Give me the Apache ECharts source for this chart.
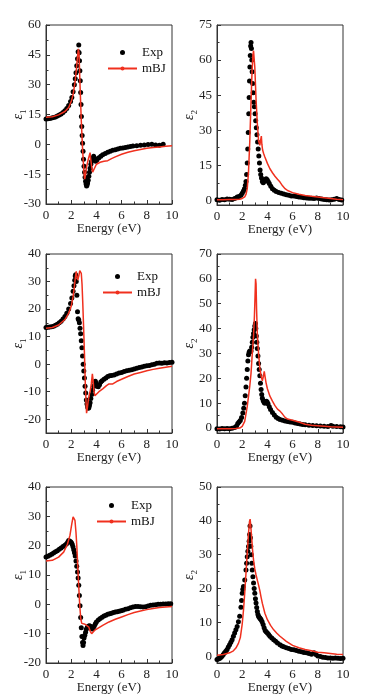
<!DOCTYPE html>
<html><head><meta charset="utf-8">
<script src="https://cdn.jsdelivr.net/npm/echarts@6/dist/echarts.min.js"></script>
<style>html,body{margin:0;padding:0;background:#fff}#c{width:365px;height:699px}</style>
</head><body><div id="c"></div>
<script>
// ---------- data ----------
const xMajor = [0, 2, 4, 6, 8, 10];
const xMinor = [1, 3, 5, 7, 9];
const yRanges = [[-30, 60], [-2, 75], [-25, 40], [-2, 70], [-20, 40], [-2, 50]];
const yMajor = [
  [-30, -15, 0, 15, 30, 45, 60],
  [0, 15, 30, 45, 60, 75],
  [-20, -10, 0, 10, 20, 30, 40],
  [0, 10, 20, 30, 40, 50, 60, 70],
  [-20, -10, 0, 10, 20, 30, 40],
  [0, 10, 20, 30, 40, 50]
];
const yMinor = [
  [-22.5, -7.5, 7.5, 22.5, 37.5, 52.5],
  [7.5, 22.5, 37.5, 52.5, 67.5],
  [-15, -5, 5, 15, 25, 35],
  [5, 15, 25, 35, 45, 55, 65],
  [-15, -5, 5, 15, 25, 35],
  [5, 15, 25, 35, 45]
];
const ySubs = ['1', '2', '1', '2', '1', '2'];
const xName = 'Energy (eV)';
const seriesNames = ['Exp', 'mBJ'];

const p1Exp = [[0,12.8],[0.15,12.9],[0.3,13.0],[0.45,13.2],[0.6,13.5],[0.75,13.8],[0.9,14.2],[1.05,14.7],[1.2,15.3],[1.35,16.0],[1.5,16.9],[1.65,18.0],[1.8,19.5],[1.95,21.5],[2.05,23.5],[2.15,26.5],[2.25,30.0],[2.32,33.0],[2.38,36.0],[2.44,39.5],[2.5,43.0],[2.55,46.5],[2.6,50.0],[2.63,46.0],[2.66,42.0],[2.69,37.0],[2.72,32.0],[2.75,26.0],[2.78,20.0],[2.81,14.0],[2.84,9.0],[2.87,4.5],[2.9,0.5],[2.94,-3.5],[2.98,-7.5],[3.02,-11.0],[3.06,-14.0],[3.1,-16.5],[3.14,-18.5],[3.18,-20.0],[3.22,-21.0],[3.26,-20.5],[3.3,-19.5],[3.35,-18.0],[3.4,-16.0],[3.45,-14.0],[3.5,-12.0],[3.56,-10.0],[3.62,-8.5],[3.7,-7.0],[3.78,-6.0],[3.86,-7.0],[3.94,-8.5],[4.05,-7.8],[4.2,-6.8],[4.35,-6.0],[4.5,-5.3],[4.7,-4.6],[4.9,-4.0],[5.1,-3.5],[5.3,-3.0],[5.5,-2.7],[5.7,-2.4],[5.9,-2.0],[6.1,-1.8],[6.3,-1.6],[6.5,-1.3],[6.7,-1.1],[6.9,-0.9],[7.2,-0.7],[7.5,-0.5],[7.8,-0.3],[8.1,-0.1],[8.4,0.0],[8.7,-0.3],[9.0,-0.4],[9.3,0.1]];
const p1Bj = [[0,13.6],[0.5,13.9],[1,14.8],[1.5,16.5],[1.8,18.5],[2.0,21.5],[2.15,25],[2.3,31],[2.4,37],[2.5,44],[2.57,48],[2.62,46],[2.7,30],[2.8,12],[2.9,-2],[3.0,-13],[3.07,-17.5],[3.12,-16],[3.2,-12],[3.3,-9],[3.4,-6.5],[3.5,-4.2],[3.54,-7],[3.62,-11],[3.7,-14],[3.76,-14.3],[3.85,-12],[4.0,-10],[4.3,-9],[4.6,-8.5],[4.9,-8.2],[5.0,-7.6],[5.2,-7.2],[5.5,-6.3],[6.0,-5.0],[6.5,-4.0],[7.0,-3.2],[7.5,-2.6],[8.0,-2.0],[8.5,-1.6],[9.0,-1.3],[9.5,-1.0],[10,-0.7]];

const p2Exp = [[0,0.2],[0.2,0.0],[0.4,0.3],[0.6,0.2],[0.8,0.6],[1.0,0.5],[1.2,0.3],[1.4,0.8],[1.6,1.4],[1.75,1.6],[1.9,2.2],[2.0,3.0],[2.1,4.0],[2.18,5.0],[2.25,6.5],[2.3,8],[2.35,11],[2.4,16],[2.44,22],[2.48,29],[2.52,37],[2.55,44],[2.58,51],[2.61,57],[2.64,62],[2.67,66],[2.7,67.5],[2.73,65],[2.76,60],[2.79,55],[2.83,50],[2.87,46],[2.92,42],[2.97,40],[3.02,37],[3.07,34],[3.12,31],[3.17,28],[3.22,25],[3.27,22],[3.32,19],[3.37,16],[3.42,13],[3.47,11],[3.53,9.5],[3.6,8],[3.67,7.5],[3.74,8],[3.82,8.8],[3.9,9.2],[3.98,8.8],[4.06,8.0],[4.15,7.2],[4.27,6.0],[4.4,5.0],[4.55,4.3],[4.7,3.8],[4.9,3.3],[5.1,3.0],[5.3,2.7],[5.5,2.4],[5.7,2.2],[5.9,1.9],[6.1,1.8],[6.3,1.6],[6.5,1.4],[6.7,1.3],[6.9,1.1],[7.1,1.0],[7.3,0.9],[7.5,0.9],[7.7,0.8],[7.9,1.0],[8.1,0.8],[8.3,0.6],[8.5,0.4],[8.7,0.2],[8.9,0.1],[9.1,0.2],[9.3,0.5],[9.5,0.8],[9.7,0.4],[9.9,0.1]];
const p2Bj = [[0,0.2],[0.5,0.2],[1.0,0.3],[1.5,0.4],[1.8,0.5],[2.0,0.8],[2.2,1.5],[2.3,2.5],[2.4,5],[2.5,12],[2.6,25],[2.7,42],[2.78,55],[2.85,62],[2.9,64],[2.95,63.5],[3.0,57],[3.05,50],[3.1,43],[3.2,33],[3.3,25.5],[3.4,23.5],[3.47,26],[3.52,27.5],[3.56,24],[3.62,21.5],[3.7,20],[3.8,18.5],[4.0,15.8],[4.2,13.5],[4.4,11.8],[4.6,10.3],[4.8,9.0],[5.0,7.8],[5.2,6.2],[5.4,5.0],[5.6,4.2],[6.0,3.3],[6.5,2.6],[7.0,2.1],[7.5,1.7],[8.0,1.4],[8.5,1.1],[9.0,0.8],[9.5,0.5],[10,0.3]];

const p3Exp = [[0,13.3],[0.15,13.4],[0.3,13.5],[0.45,13.6],[0.6,13.8],[0.75,14.1],[0.9,14.5],[1.05,15.0],[1.2,15.6],[1.35,16.4],[1.5,17.3],[1.65,18.5],[1.8,20.0],[1.95,22.0],[2.05,24.0],[2.15,26.5],[2.22,28.5],[2.28,30.5],[2.32,32.0],[2.35,32.5],[2.4,30],[2.45,25],[2.5,19],[2.55,16.5],[2.6,16],[2.65,15],[2.7,13],[2.75,11],[2.8,8.5],[2.85,6],[2.9,3],[2.95,0],[3.0,-2.5],[3.05,-5],[3.1,-8],[3.15,-10.5],[3.2,-13],[3.25,-14.5],[3.3,-15.5],[3.35,-16],[3.4,-15.8],[3.45,-15],[3.5,-14],[3.56,-12.5],[3.62,-11],[3.7,-9.5],[3.78,-8],[3.86,-6.5],[3.92,-6.2],[3.98,-7],[4.05,-8],[4.15,-8.2],[4.25,-7.5],[4.35,-6.5],[4.45,-6.0],[4.6,-5.5],[4.75,-5],[4.9,-4.5],[5.05,-4.2],[5.2,-4.1],[5.4,-3.9],[5.6,-3.6],[5.8,-3.2],[6.0,-3.0],[6.2,-2.7],[6.4,-2.4],[6.6,-2.2],[6.8,-2.0],[7.0,-1.8],[7.2,-1.5],[7.4,-1.2],[7.6,-1.0],[7.8,-0.8],[8.0,-0.6],[8.2,-0.5],[8.4,-0.2],[8.6,0.0],[8.8,0.3],[9.0,0.4],[9.2,0.3],[9.4,0.5],[9.6,0.4],[9.8,0.6],[10.0,0.7]];
const p3Bj = [[0,13],[0.5,13.3],[1,14.2],[1.5,16.2],[1.8,18.5],[2.0,21],[2.15,24.5],[2.25,28],[2.33,31.5],[2.4,33.7],[2.46,31.5],[2.52,30.5],[2.6,32],[2.68,34],[2.74,34.3],[2.8,33],[2.86,29],[2.92,22],[2.98,14],[3.05,4],[3.12,-7],[3.18,-14],[3.22,-17.8],[3.28,-16],[3.36,-13],[3.44,-11],[3.52,-9.5],[3.6,-7],[3.68,-3.5],[3.74,-6],[3.8,-9.5],[3.88,-11.5],[4.0,-11],[4.2,-10],[4.5,-9],[4.8,-7.8],[5.0,-7.2],[5.3,-7.2],[5.6,-6.3],[6.0,-5.5],[6.5,-4.5],[7.0,-3.6],[7.5,-3.0],[8.0,-2.4],[8.5,-1.9],[9.0,-1.5],[9.5,-1.1],[10,-0.8]];

const p4Exp = [[0,-0.3],[0.2,-0.4],[0.4,-0.2],[0.6,-0.3],[0.8,-0.2],[1.0,-0.3],[1.2,-0.1],[1.4,0.2],[1.55,0.8],[1.65,1.8],[1.75,2.4],[1.85,3.0],[1.95,4.2],[2.05,6.0],[2.12,8],[2.18,10],[2.24,13],[2.3,16.5],[2.35,20],[2.4,23.5],[2.45,27],[2.5,29.5],[2.55,30.5],[2.6,31],[2.65,30.8],[2.7,31],[2.75,32.5],[2.8,34.5],[2.85,36.5],[2.9,38],[2.95,39.5],[3.0,41],[3.05,42],[3.08,40],[3.12,37],[3.16,34.5],[3.2,32],[3.25,29],[3.3,26],[3.35,23.5],[3.4,21],[3.45,18],[3.5,15.5],[3.55,13.5],[3.6,12],[3.67,11],[3.74,10.3],[3.8,10],[3.86,10.5],[3.92,10.8],[3.98,10.5],[4.05,9.8],[4.15,8.6],[4.25,7.5],[4.4,6.2],[4.55,5.2],[4.7,4.3],[4.85,3.8],[5.0,3.4],[5.2,3.1],[5.4,2.8],[5.6,2.6],[5.8,2.4],[6.0,2.3],[6.2,2.0],[6.4,1.8],[6.6,1.6],[6.8,1.4],[7.0,1.3],[7.3,1.1],[7.6,1.0],[7.9,0.9],[8.2,0.8],[8.5,0.7],[8.8,0.6],[9.05,1.0],[9.2,0.7],[9.5,0.6],[9.8,0.5],[10,0.4]];
const p4Bj = [[0,-0.3],[0.5,-0.3],[1.0,-0.3],[1.5,-0.2],[1.8,0],[2.0,0.7],[2.2,2.7],[2.4,8.7],[2.5,12.7],[2.6,16.8],[2.7,22],[2.8,30],[2.9,37],[2.97,45],[3.02,53],[3.06,60],[3.1,58],[3.14,48],[3.2,38],[3.3,30],[3.4,24],[3.5,21],[3.6,19],[3.67,20.5],[3.75,22.8],[3.82,20.5],[3.9,18],[4.0,15.8],[4.2,12.8],[4.4,10.8],[4.6,9],[4.8,7.6],[5.0,6.8],[5.2,5.6],[5.4,4.3],[5.6,3.6],[6.0,3.1],[6.5,2.4],[7.0,1.5],[7.5,1.1],[8.0,0.9],[9.0,0.5],[10,0.3]];

const p5Exp = [[0,16.1],[0.15,16.4],[0.3,16.7],[0.45,17.1],[0.6,17.5],[0.75,17.9],[0.9,18.3],[1.05,18.8],[1.2,19.2],[1.35,19.7],[1.5,20.1],[1.62,20.6],[1.72,21.2],[1.8,21.8],[1.88,21.5],[1.95,21.3],[2.02,21.0],[2.08,20.5],[2.14,19.6],[2.2,18.6],[2.26,17.6],[2.32,16.5],[2.38,14.8],[2.44,13.0],[2.5,11.0],[2.55,9.0],[2.6,6.5],[2.65,3.0],[2.7,-0.5],[2.75,-4.5],[2.8,-8],[2.85,-11],[2.9,-13],[2.94,-14],[2.98,-13],[3.02,-11.5],[3.08,-10.5],[3.14,-9.5],[3.2,-8.5],[3.28,-7.8],[3.36,-7.5],[3.44,-7.3],[3.52,-7.5],[3.6,-8.2],[3.68,-8.4],[3.76,-8.0],[3.84,-7.3],[3.92,-6.6],[4.0,-6.0],[4.15,-5.3],[4.3,-4.8],[4.45,-4.4],[4.6,-4.0],[4.75,-3.7],[4.9,-3.4],[5.05,-3.2],[5.2,-3.0],[5.35,-2.8],[5.5,-2.6],[5.65,-2.5],[5.8,-2.4],[5.95,-2.2],[6.1,-2.0],[6.3,-1.7],[6.5,-1.5],[6.7,-1.2],[6.9,-0.9],[7.1,-0.7],[7.3,-0.7],[7.5,-0.8],[7.7,-0.9],[7.9,-0.8],[8.1,-0.6],[8.3,-0.3],[8.5,-0.2],[8.7,-0.1],[8.9,0.0],[9.1,0.0],[9.3,0.1],[9.5,0.1],[9.7,0.2],[9.9,0.2]];
const p5Bj = [[0,14.8],[0.5,15],[1.0,16.1],[1.4,17.8],[1.7,20.5],[1.9,23.5],[2.05,27.5],[2.15,29.8],[2.22,30.2],[2.3,28.6],[2.38,24.5],[2.45,19.5],[2.52,13],[2.6,6],[2.68,-0.5],[2.76,-5],[2.84,-6.5],[2.95,-6.7],[3.1,-6.8],[3.25,-7.0],[3.4,-7.8],[3.52,-9.3],[3.62,-10],[3.72,-9.6],[3.85,-8.9],[4.0,-8.3],[4.5,-7.2],[5.0,-6.0],[5.5,-5.1],[6.0,-4.3],[6.5,-3.5],[7.0,-2.8],[7.5,-2.3],[8.0,-1.8],[8.5,-1.4],[9.0,-1.1],[9.5,-0.9],[10,-0.7]];

const p6Exp = [[0,-1.0],[0.1,-0.8],[0.2,-0.7],[0.3,-0.4],[0.4,0],[0.5,0.5],[0.6,1.0],[0.7,1.5],[0.8,2.0],[0.9,2.7],[1.0,3.4],[1.1,4.1],[1.2,4.9],[1.3,5.9],[1.4,6.9],[1.5,7.8],[1.6,8.8],[1.7,10.2],[1.8,11.8],[1.9,14.5],[1.95,16.5],[2.0,18.6],[2.05,19.8],[2.1,20.6],[2.2,22.5],[2.3,25.5],[2.35,27.5],[2.4,29.4],[2.45,31],[2.5,32.4],[2.55,34],[2.59,36],[2.62,38.5],[2.65,35],[2.68,32.5],[2.72,30],[2.76,27.5],[2.8,25.5],[2.85,23.5],[2.9,21.6],[2.95,20],[3.0,18.6],[3.05,17],[3.1,15.7],[3.15,14.4],[3.2,13.2],[3.25,12.3],[3.3,11.8],[3.35,11.5],[3.4,11.3],[3.45,11.0],[3.5,10.8],[3.58,10.2],[3.66,9.4],[3.74,8.4],[3.82,7.6],[3.9,7.2],[4.0,6.9],[4.1,6.4],[4.2,5.9],[4.35,5.4],[4.5,4.9],[4.65,4.4],[4.8,3.9],[5.0,3.4],[5.15,3.0],[5.3,2.8],[5.5,2.5],[5.7,2.3],[5.9,2.0],[6.1,1.9],[6.3,1.7],[6.5,1.5],[6.7,1.3],[6.9,1.1],[7.1,1.0],[7.3,0.8],[7.5,0.6],[7.7,1.0],[7.85,0.5],[8.0,0.1],[8.2,-0.1],[8.4,-0.3],[8.6,-0.4],[8.8,-0.5],[9.0,-0.5],[9.2,-0.6],[9.4,-0.5],[9.6,-0.6],[9.8,-0.7],[10,-0.6]];
const p6Bj = [[0,0.3],[0.5,0.5],[1.0,1.0],[1.3,1.6],[1.5,2.4],[1.7,3.8],[1.85,5.5],[2.0,9.5],[2.1,13.5],[2.2,18.6],[2.3,24.5],[2.4,30.4],[2.5,36.3],[2.58,39.8],[2.63,40.5],[2.68,38.5],[2.75,35],[2.82,31.5],[2.9,28.4],[3.0,25.8],[3.1,24.0],[3.2,22.5],[3.3,21],[3.4,19.4],[3.5,17.4],[3.6,15.6],[3.8,12.7],[4.0,10.8],[4.25,9.1],[4.5,7.8],[4.75,6.8],[5.0,5.9],[5.5,4.4],[6.0,3.2],[6.5,2.5],[7.0,2.0],[7.5,1.6],[8.0,1.2],[8.5,1.0],[9.0,0.8],[9.5,0.6],[10,0.5]];

const expData = [p1Exp, p2Exp, p3Exp, p4Exp, p5Exp, p6Exp];
const bjData = [p1Bj, p2Bj, p3Bj, p4Bj, p5Bj, p6Bj];

// ---------- layout / style ----------
const FONT = '"Liberation Serif", "Times New Roman", Times, serif';
const AX = '#333';
const RED = '#f0301e';
const grids = [
  {left: 46, top: 25, width: 126, height: 179},
  {left: 217, top: 25, width: 126, height: 180},
  {left: 46, top: 254, width: 126, height: 179},
  {left: 217, top: 254, width: 126, height: 179},
  {left: 46, top: 487, width: 126, height: 176},
  {left: 217, top: 487, width: 126, height: 176}
];
const legendPos = [{left: 107, top: 46}, null, {left: 102, top: 270}, null, {left: 96, top: 499}, null];

const xAxes = [], yAxes = [], series = [], legends = [];
grids.forEach((g, i) => {
  g.show = true; g.borderColor = AX; g.borderWidth = 1; g.backgroundColor = 'transparent';
  const lbl = {color: '#222', fontFamily: FONT, fontSize: 13};
  xAxes.push({
    gridIndex: i, type: 'value', min: 0, max: 10, position: 'bottom',
    axisLine: {show: true, onZero: false, lineStyle: {color: AX, width: 1}},
    axisTick: {show: true, inside: true, length: 4, customValues: xMajor, lineStyle: {color: AX}},
    axisLabel: Object.assign({customValues: xMajor, margin: 5}, lbl),
    splitLine: {show: false},
    name: xName, nameLocation: 'middle', nameGap: 18, nameMoveOverlap: false,
    nameTextStyle: {color: '#222', fontFamily: FONT, fontSize: 13}
  });
  xAxes.push({
    gridIndex: i, type: 'value', min: 0, max: 10, position: 'bottom',
    axisLine: {show: false, onZero: false}, axisLabel: {show: false}, splitLine: {show: false},
    axisTick: {show: true, inside: true, length: 2.5, customValues: xMinor, lineStyle: {color: AX}}
  });
  yAxes.push({
    gridIndex: i, type: 'value', min: yRanges[i][0], max: yRanges[i][1], position: 'left',
    axisLine: {show: true, onZero: false, lineStyle: {color: AX, width: 1}},
    axisTick: {show: true, inside: true, length: 4, customValues: yMajor[i], lineStyle: {color: AX}},
    axisLabel: Object.assign({customValues: yMajor[i], margin: 5}, lbl),
    splitLine: {show: false},
    name: '{e|ε}{s|' + ySubs[i] + '}', nameLocation: 'middle', nameGap: 18, nameRotate: 90,
    nameMoveOverlap: false,
    nameTextStyle: {rich: {
      e: {fontFamily: FONT, fontSize: 14, fontStyle: 'italic', color: '#222', verticalAlign: 'bottom', padding: [0, 0, 3, 0]},
      s: {fontFamily: FONT, fontSize: 9, color: '#222', verticalAlign: 'bottom'}
    }}
  });
  yAxes.push({
    gridIndex: i, type: 'value', min: yRanges[i][0], max: yRanges[i][1], position: 'left',
    axisLine: {show: false, onZero: false}, axisLabel: {show: false}, splitLine: {show: false},
    axisTick: {show: true, inside: true, length: 2.5, customValues: yMinor[i], lineStyle: {color: AX}}
  });
  series.push({
    name: seriesNames[0], type: 'scatter', xAxisIndex: 2 * i, yAxisIndex: 2 * i,
    data: expData[i], symbol: 'circle', symbolSize: 5,
    itemStyle: {color: '#000', opacity: 1}, z: 2, animation: false
  });
  series.push({
    name: seriesNames[1], type: 'line', xAxisIndex: 2 * i, yAxisIndex: 2 * i,
    data: bjData[i], symbol: 'none', smooth: false,
    lineStyle: {color: RED, width: 1.5}, itemStyle: {color: RED}, z: 3, animation: false
  });
  if (legendPos[i]) {
    legends.push(Object.assign({
      orient: 'vertical', itemWidth: 29, itemHeight: 5, itemGap: 3,
      selectedMode: false, padding: 0,
      data: [{name: seriesNames[0], icon: 'circle'}, {name: seriesNames[1]}],
      textStyle: {color: '#111', fontFamily: FONT, fontSize: 13}
    }, legendPos[i]));
  }
});

const chart = echarts.init(document.getElementById('c'), null, {renderer: 'canvas'});
chart.setOption({
  backgroundColor: '#fff',
  animation: false,
  grid: grids, xAxis: xAxes, yAxis: yAxes, legend: legends, series: series
});
</script></body></html>
